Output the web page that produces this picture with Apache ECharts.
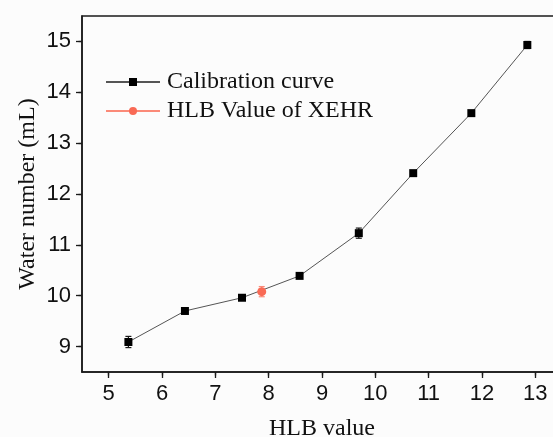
<!DOCTYPE html>
<html>
<head>
<meta charset="utf-8">
<script src="https://cdn.jsdelivr.net/npm/echarts@6/dist/echarts.min.js"></script>
<style>
  html, body { margin: 0; padding: 0; background: #fcfcfc; }
  #chart { width: 553px; height: 437px; }
</style>
</head>
<body>
<div id="chart"></div>
<script>
// Calibration curve: water number vs. HLB value
const hlbValues   = [5.37, 6.43, 7.50, 8.58, 9.69, 10.71, 11.80, 12.85];
const waterNumber = [9.09, 9.70, 9.96, 10.39, 11.23, 12.41, 13.59, 14.93];
const waterError  = [0.11, 0.03, 0.04, 0.04, 0.10, 0.05, 0.04, 0.07];

// Measured sample
const xehrHlb   = [7.87];
const xehrWater = [10.08];
const xehrError = [0.10];

const xTicks = [5, 6, 7, 8, 9, 10, 11, 12, 13];
const yTicks = [9, 10, 11, 12, 13, 14, 15];

const serif = "'Liberation Serif', 'Times New Roman', serif";
const sans = "'Liberation Sans', Arial, sans-serif";
const red = '#f96a55';

function errorData(xs, ys, es) {
  return xs.map((x, i) => [x, ys[i] - es[i], ys[i] + es[i]]);
}

function errorBar(color) {
  return function (params, api) {
    const lo = api.coord([api.value(0), api.value(1)]);
    const hi = api.coord([api.value(0), api.value(2)]);
    const cap = 3;
    const style = { stroke: color, lineWidth: 1.2 };
    return {
      type: 'group',
      children: [
        { type: 'line', shape: { x1: lo[0], y1: lo[1], x2: hi[0], y2: hi[1] }, style },
        { type: 'line', shape: { x1: lo[0] - cap, y1: lo[1], x2: lo[0] + cap, y2: lo[1] }, style },
        { type: 'line', shape: { x1: hi[0] - cap, y1: hi[1], x2: hi[0] + cap, y2: hi[1] }, style }
      ]
    };
  };
}

const chart = echarts.init(document.getElementById('chart'), null, { renderer: 'canvas' });

const axisCommon = {
  type: 'value',
  interval: 1,
  axisLine: { show: true, onZero: false, lineStyle: { color: '#1a1a1a', width: 1.5 } },
  axisTick: { show: true, inside: false, length: 6, lineStyle: { color: '#1a1a1a', width: 1.3 } },
  minorTick: { show: true, splitNumber: 2, length: 3.5, lineStyle: { color: '#1a1a1a', width: 1.3 } },
  splitLine: { show: false },
  axisLabel: { fontFamily: sans, fontSize: 22, color: '#111', margin: 11 },
  nameLocation: 'middle',
  nameMoveOverlap: false,
  nameTextStyle: { fontFamily: serif, fontSize: 24, color: '#111' }
};

chart.setOption({
  backgroundColor: '#fcfcfc',
  animation: false,
  grid: {
    left: 82, top: 16, width: 480, height: 356,
    containLabel: false,
    outerBoundsMode: 'none',
    show: true, borderColor: '#1a1a1a', borderWidth: 1.5, backgroundColor: 'transparent'
  },
  legend: {
    orient: 'vertical',
    left: 105, top: 70,
    padding: 0,
    itemWidth: 54, itemHeight: 10, itemGap: 5,
    data: ['Calibration curve', 'HLB Value of XEHR'],
    textStyle: { fontFamily: serif, fontSize: 24, color: '#111', padding: [0, 0, 0, 2] }
  },
  xAxis: Object.assign({}, axisCommon, {
    min: 4.5, max: 13.5,
    name: 'HLB value', nameGap: 45,
    axisLabel: Object.assign({}, axisCommon.axisLabel, {
      customValues: xTicks
    }),
    axisTick: Object.assign({}, axisCommon.axisTick, { customValues: xTicks })
  }),
  yAxis: Object.assign({}, axisCommon, {
    min: 8.5, max: 15.5,
    name: 'Water number (mL)', nameGap: 42,
    axisLabel: Object.assign({}, axisCommon.axisLabel, {
      customValues: yTicks
    }),
    axisTick: Object.assign({}, axisCommon.axisTick, { customValues: yTicks })
  }),
  series: [
    {
      name: 'calibration-error',
      type: 'custom',
      renderItem: errorBar('#1a1a1a'),
      data: errorData(hlbValues, waterNumber, waterError),
      z: 1,
      silent: true
    },
    {
      name: 'xehr-error',
      type: 'custom',
      renderItem: errorBar('#fb8a78'),
      data: errorData(xehrHlb, xehrWater, xehrError),
      z: 1,
      silent: true
    },
    {
      name: 'Calibration curve',
      type: 'line',
      data: hlbValues.map((x, i) => [x, waterNumber[i]]),
      symbol: 'rect',
      symbolSize: 8,
      itemStyle: { color: '#000' },
      lineStyle: { color: '#555', width: 1 },
      z: 3
    },
    {
      name: 'HLB Value of XEHR',
      type: 'line',
      data: xehrHlb.map((x, i) => [x, xehrWater[i]]),
      symbol: 'circle',
      symbolSize: 9,
      itemStyle: { color: red },
      lineStyle: { color: '#fb8a78', width: 1 },
      z: 4
    }
  ]
});
</script>
</body>
</html>
